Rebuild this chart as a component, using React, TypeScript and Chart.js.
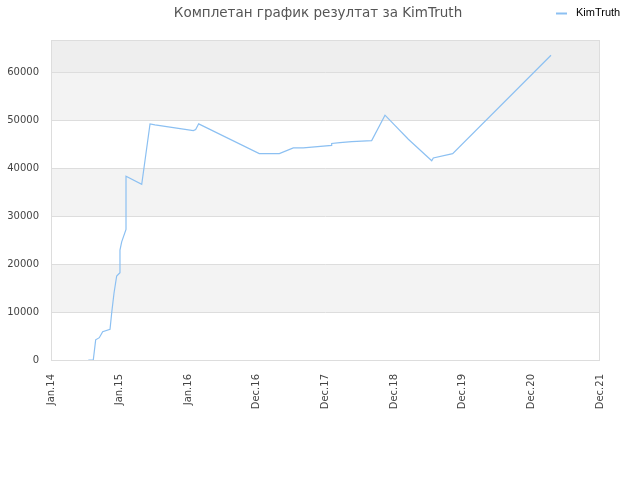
import React, { useEffect, useRef } from "react";
import { Chart, registerables } from "chart.js";

Chart.register(...registerables);

const titleText = "Комплетан график резултат за KimTruth";
const seriesName = "KimTruth";
const xTickLabels = ["Jan.14", "Jan.15", "Jan.16", "Dec.16", "Dec.17", "Dec.18", "Dec.19", "Dec.20", "Dec.21"];
const yTickValues = [0, 10000, 20000, 30000, 40000, 50000, 60000];
// x positions in "tick units" (0 = Jan.14, 8 = Dec.21)
const xValues = [0.544, 0.616, 0.651, 0.704, 0.753, 0.86, 0.885, 0.918, 0.957, 1.005, 1.005, 1.03, 1.093, 1.093, 1.322, 1.443, 1.515, 1.832, 2.074, 2.108, 2.152, 3.035, 3.327, 3.531, 3.676, 4.09, 4.09, 4.211, 4.382, 4.673, 4.867, 5.207, 5.548, 5.571, 5.853, 7.286];
const yValues = [0, 0, 4200, 4650, 5900, 6400, 9900, 13900, 17500, 18200, 22900, 24600, 27200, 38300, 36600, 49200, 49000, 48300, 47800, 48000, 49200, 43000, 43000, 44200, 44200, 44700, 45100, 45300, 45500, 45700, 51000, 46000, 41500, 42100, 43000, 63500];
const yMax = 66667;
const yStep = 10000;

const decorPlugin = {
  id: "decor",
  beforeDraw(chart: any) {
    const { ctx, chartArea, scales } = chart;
    const y = scales.y;
    ctx.save();
    ctx.fillStyle = "#ffffff";
    ctx.fillRect(0, 0, chart.width, chart.height);
    for (let v = 0; v < yMax; v += yStep) {
      const idx = v / yStep;
      const top = y.getPixelForValue(Math.min(v + yStep, yMax));
      const bot = y.getPixelForValue(v);
      let color: string | null = null;
      if (v + yStep > yMax) color = "#eeeeee";
      else if (idx % 2 === 1) color = "#f3f3f3";
      if (color) {
        ctx.fillStyle = color;
        ctx.fillRect(chartArea.left, top, chartArea.right - chartArea.left, bot - top);
      }
    }
    ctx.restore();
  },
  afterDraw(chart: any) {
    const { ctx, chartArea } = chart;
    ctx.save();
    ctx.strokeStyle = "#dddddd";
    ctx.lineWidth = 1;
    ctx.strokeRect(chartArea.left + 0.5, chartArea.top + 0.5, chartArea.right - chartArea.left - 1, chartArea.bottom - chartArea.top);
    // title
    ctx.fillStyle = "#555555";
    ctx.font = "13.5px 'DejaVu Sans'";
    ctx.textAlign = "center";
    ctx.textBaseline = "alphabetic";
    ctx.fillText(titleText, 318, 17);
    // legend
    ctx.strokeStyle = "#8cc0f2";
    ctx.lineWidth = 2;
    ctx.beginPath();
    ctx.moveTo(556, 13.5);
    ctx.lineTo(567, 13.5);
    ctx.stroke();
    ctx.fillStyle = "#000000";
    ctx.font = "11px 'Liberation Sans'";
    ctx.textAlign = "left";
    ctx.fillText(seriesName, 576, 16);
    ctx.restore();
  },
};

export default function App() {
  const ref = useRef<HTMLCanvasElement>(null);
  useEffect(() => {
    if (!ref.current) return;
    const data = xValues.map((x, i) => ({ x, y: yValues[i] }));
    const chart = new Chart(ref.current, {
      type: "line",
      data: {
        datasets: [
          {
            label: seriesName,
            data,
            borderColor: "#8cc0f2",
            backgroundColor: "#8cc0f2",
            borderWidth: 1.2,
            pointRadius: 0,
            tension: 0,
            fill: false,
          },
        ],
      },
      options: {
        animation: false,
        responsive: false,
        devicePixelRatio: 1,
        layout: { padding: { top: 40, right: 40, left: 0, bottom: 0 } },
        plugins: {
          legend: { display: false },
          title: { display: false },
          tooltip: { enabled: false },
        },
        scales: {
          x: {
            type: "linear",
            min: 0,
            max: 8,
            afterFit(scale: any) {
              scale.height = 120;
            },
            grid: { display: false, drawTicks: false },
            border: { display: false },
            ticks: {
              stepSize: 1,
              autoSkip: false,
              minRotation: 90,
              maxRotation: 90,
              padding: 14,
              color: "#444444",
              font: { family: "'DejaVu Sans'", size: 10 },
              callback: (v: any) => xTickLabels[Math.round(Number(v))] ?? "",
            },
          },
          y: {
            type: "linear",
            min: 0,
            max: yMax,
            afterFit(scale: any) {
              scale.width = 51;
            },
            afterBuildTicks(scale: any) {
              scale.ticks = yTickValues.map((v) => ({ value: v }));
            },
            grid: { color: "#dddddd", drawTicks: false, lineWidth: 1 },
            border: { display: false },
            ticks: {
              autoSkip: false,
              padding: 12,
              color: "#444444",
              font: { family: "'DejaVu Sans'", size: 10 },
              callback: (v: any) => String(v),
            },
          },
        },
      },
      plugins: [decorPlugin],
    });
    return () => chart.destroy();
  }, []);
  return (
    <div style={{ position: "absolute", left: 0, top: 0, width: 640, height: 480 }}>
      <canvas ref={ref} width={640} height={480} />
    </div>
  );
}
